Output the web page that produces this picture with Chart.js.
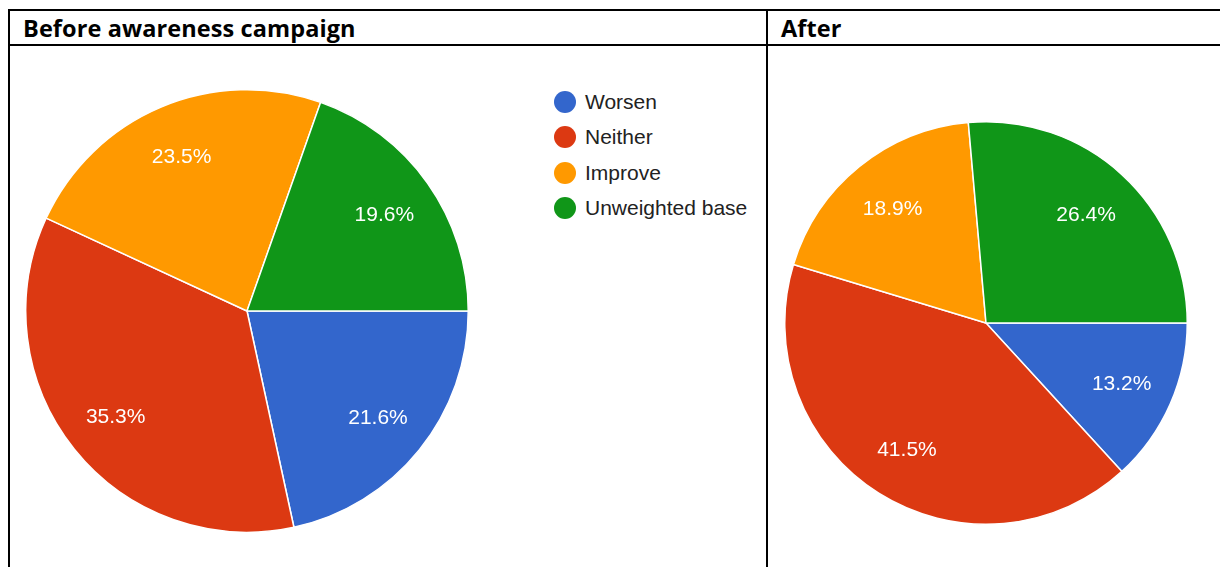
<!DOCTYPE html>
<html>
<head>
<meta charset="utf-8">
<script src="https://cdn.jsdelivr.net/npm/chart.js@4.4.0/dist/chart.umd.min.js"></script>
<style>
  html, body { margin: 0; padding: 0; background: #fff; }
  body { width: 1220px; height: 567px; position: relative; overflow: hidden; }
  .line { position: absolute; background: #000; }
  .head { position: absolute; top: 12px; font-family: "Open Sans", "Liberation Sans", sans-serif; font-weight: bold; font-size: 23.5px; letter-spacing: 0.1px; color: #000; }
  .box { position: absolute; }
  #legend { position: absolute; left: 554px; top: 84px; font-family: "Liberation Sans", Arial, sans-serif; font-size: 21px; color: #222; }
  #legend .item { height: 35.5px; display: flex; align-items: center; }
  #legend .dot { width: 22px; height: 22px; border-radius: 50%; margin-right: 9px; }
</style>
</head>
<body>
<div class="line" style="left:8px; top:9px; width:1212px; height:2px;"></div>
<div class="line" style="left:8px; top:44px; width:1212px; height:2px;"></div>
<div class="line" style="left:8px; top:9px; width:2px; height:558px;"></div>
<div class="line" style="left:766px; top:9px; width:2px; height:558px;"></div>
<div class="head" style="left:23px;">Before awareness campaign</div>
<div class="head" style="left:781px;">After</div>

<div class="box" style="left:25px; top:89px;"><canvas id="beforeChart" width="444" height="444"></canvas></div>
<div class="box" style="left:784px; top:121px;"><canvas id="afterChart" width="404" height="404"></canvas></div>
<div id="legend"></div>

<script>
const categories = ['Worsen', 'Neither', 'Improve', 'Unweighted base'];
const beforeValues = [21.6, 35.3, 23.5, 19.6];
const afterValues = [13.2, 41.5, 18.9, 26.4];
const sliceColors = ['#3366cc', '#dc3912', '#ff9900', '#109618'];

// percentage labels inside the slices
const sliceLabels = {
    id: 'sliceLabels',
    afterDatasetsDraw(chart) {
        const ctx = chart.ctx;
        const meta = chart.getDatasetMeta(0);
        const data = chart.data.datasets[0].data;
        ctx.save();
        ctx.fillStyle = '#ffffff';
        ctx.font = '21px "Liberation Sans", Arial, sans-serif';
        ctx.textAlign = 'center';
        ctx.textBaseline = 'middle';
        meta.data.forEach(function(arc, i) {
            const mid = (arc.startAngle + arc.endAngle) / 2;
            const r = arc.outerRadius - 53;
            ctx.fillText(data[i].toFixed(1) + '%', arc.x + Math.cos(mid) * r, arc.y + Math.sin(mid) * r + 1.5);
        });
        ctx.restore();
    }
};

function makePie(id, values) {
    const ctx = document.getElementById(id).getContext('2d');
    return new Chart(ctx, {
        type: 'pie',
        data: {
            labels: categories,
            datasets: [{
                data: values,
                backgroundColor: sliceColors,
                borderColor: '#ffffff',
                borderWidth: 1.5
            }]
        },
        options: {
            responsive: false,
            animation: false,
            rotation: 90,
            layout: { padding: 0 },
            plugins: {
                legend: { display: false },
                tooltip: { enabled: false }
            }
        },
        plugins: [sliceLabels]
    });
}

makePie('beforeChart', beforeValues);
makePie('afterChart', afterValues);

const legend = document.getElementById('legend');
categories.forEach(function(name, i) {
    const item = document.createElement('div');
    item.className = 'item';
    const dot = document.createElement('span');
    dot.className = 'dot';
    dot.style.background = sliceColors[i];
    const txt = document.createElement('span');
    txt.textContent = name;
    item.appendChild(dot);
    item.appendChild(txt);
    legend.appendChild(item);
});
</script>
</body>
</html>
